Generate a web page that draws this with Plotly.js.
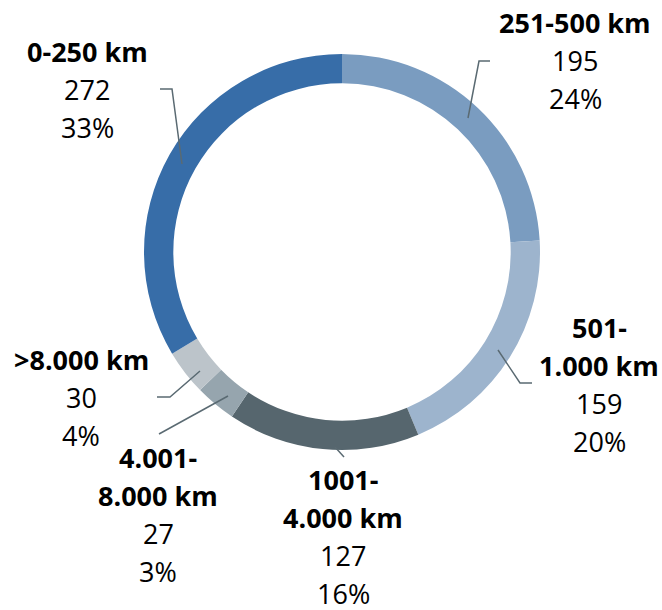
<!DOCTYPE html>
<html>
<head>
<meta charset="utf-8">
<script src="https://cdn.plot.ly/plotly-3.0.1.min.js"></script>
<style>html,body{margin:0;padding:0;background:#fff;}#chart{width:662px;height:610px;}</style>
</head>
<body>
<div id="chart"></div>
<script>
// Data (clockwise from 12 o'clock)
const categories = ["251-500 km", "501-1.000 km", "1001-4.000 km", "4.001-8.000 km", ">8.000 km", "0-250 km"];
const labelLines = [["251-500 km"], ["501-", "1.000 km"], ["1001-", "4.000 km"], ["4.001-", "8.000 km"], [">8.000 km"], ["0-250 km"]];
const values = [195, 159, 127, 27, 30, 272];
const percentLabels = ["24%", "20%", "16%", "3%", "4%", "33%"];
const colors = ["#7A9CC0", "#9DB4CD", "#56666E", "#96A5AE", "#BCC4CA", "#376DA8"];

// Layout helpers (pixel positions of label blocks and leader lines)
const W = 662, H = 610;
const labelPos = [
  {x: 575, y: 33},
  {x: 599, y: 338},
  {x: 343, y: 490},
  {x: 158, y: 468},
  {x: 81, y: 370},
  {x: 87, y: 62}
];
const leaders = [
  [[490, 61], [479, 61], [468, 118]],
  [[498, 350], [520, 383], [532, 383]],
  [[335, 447], [344, 457]],
  [[228, 396], [159, 434]],
  [[200, 371], [170, 397], [157, 397]],
  [[160, 89], [172, 89], [182, 164]]
];

const cx = 342, cy = 252, R = 198;
const FS = 27, LH = 38;
const font = "Open Sans, Noto Sans, sans-serif";

const annotations = [];
categories.forEach((c, i) => {
  const lines = labelLines[i].map(t => ({t: t, b: true}))
    .concat([{t: String(values[i]), b: false}, {t: percentLabels[i], b: false}]);
  lines.forEach((ln, k) => {
    annotations.push({
      xref: "x", yref: "y",
      x: labelPos[i].x, y: labelPos[i].y + k * LH,
      text: ln.b ? "<b>" + ln.t + "</b>" : ln.t,
      showarrow: false,
      xanchor: "center", yanchor: "bottom",
      yshift: -10,
      font: {family: font, size: FS, color: "#000"}
    });
  });
});

const shapes = leaders.map(pts => ({
  type: "path", xref: "x", yref: "y",
  path: "M" + pts.map(p => p[0] + "," + p[1]).join(" L"),
  line: {color: "#5A6A72", width: 1.5}
}));

const trace = {
  type: "pie",
  labels: categories,
  values: values,
  sort: false,
  direction: "clockwise",
  rotation: 0,
  hole: 0.852,
  textinfo: "none",
  hoverinfo: "none",
  showlegend: false,
  marker: {colors: colors, line: {width: 0}},
  domain: {x: [(cx - R) / W, (cx + R) / W], y: [1 - (cy + R) / H, 1 - (cy - R) / H]}
};

const layout = {
  width: W, height: H,
  margin: {l: 0, r: 0, t: 0, b: 0},
  paper_bgcolor: "#fff", plot_bgcolor: "rgba(0,0,0,0)",
  xaxis: {range: [0, W], visible: false, fixedrange: true},
  yaxis: {range: [H, 0], visible: false, fixedrange: true},
  showlegend: false,
  annotations: annotations,
  shapes: shapes
};

Plotly.newPlot("chart", [trace], layout, {staticPlot: true, displayModeBar: false});
</script>
</body>
</html>
